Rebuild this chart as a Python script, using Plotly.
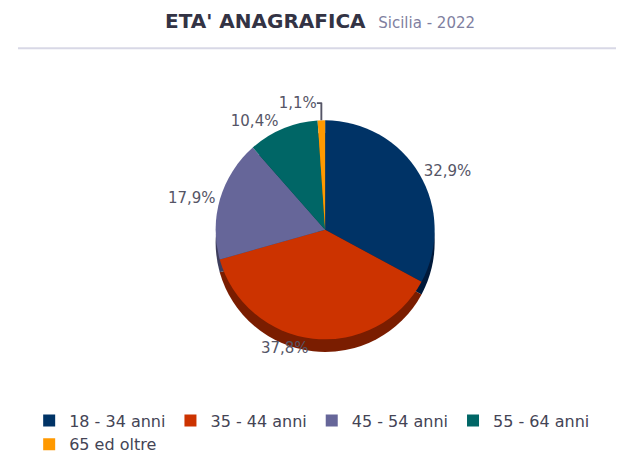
import plotly.graph_objects as go

categories = ["18 - 34 anni", "35 - 44 anni", "45 - 54 anni", "55 - 64 anni", "65 ed oltre"]
values = [32.9, 37.8, 17.9, 10.4, 1.1]
labels_text = ["32,9%", "37,8%", "17,9%", "10,4%", "1,1%"]
colors = ["#003366", "#cc3300", "#666699", "#006666", "#ff9900"]
shadow_colors = ["#00193a", "#7a1d00", "#3d3d5c", "#003d3d", "#995c00"]

fig = go.Figure()

# depth (3D rim) underneath
fig.add_trace(go.Pie(
    labels=categories, values=values, sort=False, direction="clockwise", rotation=0,
    marker=dict(colors=shadow_colors, line=dict(width=0)),
    textinfo="none", hoverinfo="skip", showlegend=False,
    domain=dict(x=[0.3065, 0.7105], y=[0.0725, 0.7635]),
))

fig.add_trace(go.Pie(
    labels=categories, values=values, text=labels_text, sort=False,
    direction="clockwise", rotation=0,
    marker=dict(colors=colors, line=dict(width=0)),
    texttemplate="%{text}", textposition="outside",
    outsidetextfont=dict(size=15, color="#555566", family="DejaVu Sans"),
    showlegend=True,
    domain=dict(x=[0.3065, 0.7105], y=[0.1125, 0.8035]),
))

fig.update_layout(
    width=624, height=463,
    paper_bgcolor="white", plot_bgcolor="white",
    margin=dict(l=10, r=10, t=50, b=60),
    title=dict(
        text="<b>ETA' ANAGRAFICA</b>  <span style='font-size:15px;color:#8080a0'>Sicilia - 2022</span>",
        x=0.5, xanchor="center", y=0.972, yanchor="middle",
        font=dict(size=20, color="#333344", family="DejaVu Sans"),
    ),
    legend=dict(
        orientation="h", x=0.0185, xanchor="left", y=-0.09, yanchor="top",
        font=dict(size=16, color="#444455", family="DejaVu Sans"),
        traceorder="normal", itemwidth=30,
    ),
    shapes=[dict(type="line", xref="paper", yref="paper", x0=0.0, x1=1.0,
                 y0=1.031, y1=1.031, line=dict(color="#d8d8e6", width=2))],
)

fig.write_html("out.html")
